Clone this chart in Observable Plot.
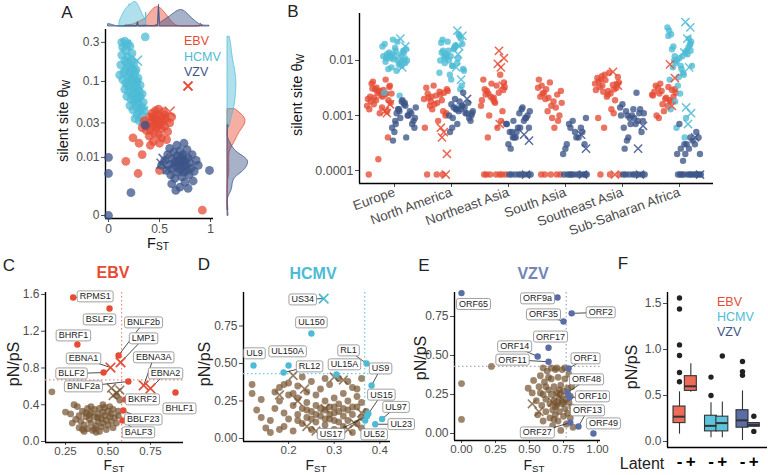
<!DOCTYPE html>
<html><head><meta charset="utf-8">
<script src="https://cdn.jsdelivr.net/npm/d3@7"></script>
<script src="https://cdn.jsdelivr.net/npm/@observablehq/plot@0.6"></script>
<style>
body{margin:0;background:#fff;}
#fig{position:relative;width:768px;height:475px;overflow:hidden;font-family:"Liberation Sans",Arial,sans-serif;background:#fff;}
.t{position:absolute;white-space:nowrap;transform:translate(-50%,-50%);line-height:1;}
.l{position:absolute;white-space:nowrap;transform:translate(0,-50%);line-height:1;}
.rot{transform:translate(-50%,-50%) rotate(-90deg);}
sub{font-size:70%;vertical-align:-0.25em;line-height:0;}
</style></head><body><div id="fig"></div><script>
// ---------------- DATA ----------------
const viruses = ["EBV", "HCMV", "VZV"];
const virusColors = ["#E64B35", "#4DBBD5", "#3C5488"];

// Panel A: [F_ST, silent-site theta_W]
const aEBV = [[0.35,0.032],[0.38,0.028],[0.40,0.036],[0.41,0.024],[0.42,0.031],[0.43,0.040],[0.44,0.027],[0.45,0.034],[0.45,0.022],[0.46,0.030],[0.47,0.038],[0.47,0.026],[0.48,0.033],[0.49,0.045],[0.49,0.021],[0.50,0.029],[0.51,0.036],[0.52,0.025],[0.53,0.031],[0.54,0.042],[0.55,0.027],[0.56,0.034],[0.58,0.023],[0.60,0.030],[0.62,0.036],[0.40,0.020],[0.44,0.017],[0.52,0.019],[0.57,0.018],[0.37,0.024],[0.43,0.035],[0.48,0.028],[0.51,0.032],[0.46,0.043],[0.55,0.038],[0.33,0.026],[0.24,0.019],[0.30,0.016],[0.41,0.015],[0.50,0.016],[0.17,0.0087],[0.33,0.011],[0.29,0.0055],[0.50,0.0062],[0.92,0.0004]];
const aEBVx = [[0.60,0.042],[0.56,0.035]];
const aHCMV = [[0.13,0.30],[0.16,0.31],[0.19,0.29],[0.14,0.26],[0.21,0.27],[0.17,0.24],[0.23,0.22],[0.13,0.21],[0.19,0.2],[0.16,0.18],[0.22,0.18],[0.25,0.17],[0.12,0.16],[0.2,0.15],[0.24,0.145],[0.17,0.14],[0.27,0.14],[0.15,0.13],[0.21,0.125],[0.25,0.12],[0.19,0.115],[0.29,0.11],[0.14,0.105],[0.23,0.1],[0.27,0.1],[0.17,0.095],[0.21,0.09],[0.31,0.09],[0.25,0.085],[0.16,0.08],[0.29,0.08],[0.2,0.075],[0.23,0.07],[0.33,0.07],[0.27,0.068],[0.18,0.065],[0.3,0.062],[0.22,0.06],[0.25,0.056],[0.29,0.053],[0.34,0.055],[0.21,0.05],[0.27,0.048],[0.31,0.046],[0.24,0.044],[0.3,0.042],[0.35,0.043],[0.28,0.038],[0.32,0.036],[0.26,0.034],[0.3,0.032],[0.34,0.03],[0.37,0.027],[0.36,0.35],[0.11,0.12],[0.19,0.09],[0.28,0.06],[0.22,0.11],[0.26,0.13],[0.18,0.17],[0.23,0.14],[0.28,0.1],[0.25,0.075],[0.31,0.065],[0.27,0.09],[0.24,0.105],[0.3,0.075],[0.26,0.06],[0.33,0.048]];
const aHCMVx = [[0.17,0.28],[0.28,0.18],[0.34,0.042]];
const aVZV = [[0.52,0.0075],[0.55,0.009],[0.57,0.0062],[0.58,0.011],[0.60,0.0078],[0.61,0.0052],[0.62,0.0095],[0.63,0.0068],[0.64,0.012],[0.65,0.0085],[0.65,0.0045],[0.66,0.0072],[0.67,0.0105],[0.68,0.0058],[0.68,0.0088],[0.69,0.0078],[0.70,0.0125],[0.70,0.0064],[0.71,0.0095],[0.72,0.0048],[0.72,0.0082],[0.73,0.0070],[0.73,0.0110],[0.74,0.0058],[0.75,0.0090],[0.75,0.0038],[0.76,0.0075],[0.77,0.0130],[0.77,0.0062],[0.78,0.0098],[0.79,0.0052],[0.80,0.0082],[0.81,0.0068],[0.82,0.0110],[0.84,0.0060],[0.86,0.0090],[0.88,0.0075],[0.60,0.0135],[0.67,0.015],[0.74,0.016],[0.62,0.0035],[0.70,0.003],[0.78,0.0028],[0.83,0.004],[0.66,0.0025],[0.99,0.0062],[0.0,0.010],[0.0,0.0055],[0.22,0.0022],[0.0,0],[0.36,0.028],[0.72,0.0102],[0.69,0.0092],[0.74,0.0085]];
const aVZVx = [[0.52,0.008],[0.58,0.0065],[0.54,0.0095]];
const aXTicks = [0, 0.5, 1], aXLabels = ["0", "0.5", "1"];
const aYTicks = [0, 0.01, 0.03, 0.1, 0.3], aYLabels = ["0", "0.01", "0.03", "0.1", "0.3"];

// Panel B: theta_W per region (0 = no diversity)
const regions = ["Europe", "North America", "Northeast Asia", "South Asia", "Southeast Asia", "Sub-Saharan Africa"];
const bEBV = [
  [.0021,.0035,.0028,.0018,.0025,.0032,.0015,.0022,.0041,.0019,.0027,.0013,.0024,.0030,.0017,.0023,.0038,.0012,.0026,.0020,.0029,.0016,.0033,.0011,.0022,.0045,.0019,.0025,.0014,.0031,.0004,.00016,0],
  [.0022,.0030,.0017,.0025,.0012,.0035,.0020,.0027,.0015,.0010,.0023,.0032,.0019,.0013,.0028,.0008,.0021,.0026,.0016,.0006,.0024,.0018,.0011,0,0,0],
  [.0025,.0040,.0018,.0030,.0055,.0022,.0015,.0035,.0028,.0012,.0020,.0045,.0026,.0010,.0033,.0017,.0024,.0008,.0038,.0019,.0006,.0004,.0029,.0021,0,0,0,0,0,0,0],
  [.0020,.0028,.0015,.0035,.0024,.0012,.0032,.0018,.0026,.0010,.0040,.0022,.0014,.0030,.0017,.0009,.0025,.0008,.0021,.0045,.0006,0,0,0,0,0],
  [.0035,.0050,.0028,.0042,.0030,.0055,.0038,.0025,.0045,.0032,.0022,.0048,.0036,.0027,.0040,.0060,.0033,.0019,.0044,.0029,.0013,.0052,.0037,.0024,.0009,.0011,.0006,0,0,0],
  [.0025,.0030,.0020,.0035,.0018,.0028,.0024,.0015,.0032,.0022,.0012,.0027,.0019,.0038,.0026,.0021,.0010,.0029,.0016,.0023,.0033,.0009]
];
const bEBVx = [[.0012,.0016,.0011],[.0004,.0002,.0005,.0006,0],[.015,.011,.0075,.0087,.0035,.0007],[],[.0062,.0035,0],[.0085,.0048,.0015]];
const bHCMV = [
  [.012,.009,.015,.011,.008,.013,.018,.010,.007,.014,.012,.020,.009,.011,.016,.0065,.013,.010,.024,.012,.0085,.014,.011,.017,.0095,.013,.0075,.010,.022,.012,.015,.0105,.0026,.0023],
  [.012,.020,.008,.015,.030,.010,.006,.018,.011,.025,.0045,.014,.009,.022,.007,.016,.012,.028,.0055,.010,.019,.013,.0035,.008,.024,.011,.015,.0065,.017,.009,.0030,.012,.021,.0014],
  [],[],[],
  [.012,.020,.008,.030,.015,.010,.040,.006,.018,.025,.011,.0045,.014,.009,.022,.007,.016,.013,.0035,.028,.0055,.010,.019,.0025,.0013,.0009,.0006,.008,.012,.0075,.017,.005,.035,.0004,.0018,.015]
];
const bHCMVx = [[.025,.018,.0075,.012],[.035,.028,.018,.0075,.0045,.013],[],[],[],[.05,.04,.025,.014,.0075,.0014,.0011,.0007]];
const bVZV = [
  [.0012,.0009,.0015,.0007,.0011,.0018,.0006,.0010,.0013,.0008,.0016,.0005,.0012,.0009,.0014,.0004,.0011,.0007,.0019,.00035,.0010,.0013,.0006,.0017,.0008],
  [.0013,.0011,.0015,.0009,.0017,.0012,.0010,.0014,.0020,.0008,.0013,.0016,.0011,.0007,.0012,.0026,.0014,.0009,.0018,.0005,.0011,.0013,.0010,.0015,.0006],
  [.0008,.0006,.0011,.0005,.0009,.0004,.0007,.0013,.0005,.0010,.0006,.0003,.0008,.0004,.0012,.0006,.00025,.0009,.0005,.0007,.0014,.0004,0,0,0,0,0,0,0,0],
  [.0006,.0009,.0004,.0003,.0005,.0008,.0002,.0004,.0007,.0003,.0005,.00025,.0006,0,0,0,0,0,0,0,0,0,0],
  [.0010,.0008,.0013,.0006,.0011,.0009,.0014,.0007,.0012,.0005,.0010,.0016,.0008,.0004,.0011,.0009,.00025,.0013,.0007,.0010,.0026,.00035,0,0,0,0,0,0,0,0],
  [.0003,.0002,.0004,.00025,.0005,.0003,.0002,.00035,.00015,.0004,.00025,.0007,.0003,.0002,0,0,0,0,0,0,0,0,0,0,0,0]
];
const bVZVx = [[],[.0020],[.00045,.00035,0],[.00045,.00025,0],[.00025,.00065,0],[.0004,0]];
const bYTicks = [0.0001, 0.001, 0.01], bYLabels = ["0.0001", "0.001", "0.01"];

// Panels C-E: other genes [F_ST, pN/pS], highlighted genes [name, F_ST, pN/pS, shape]
const cOther = [[0.17,0.54],[0.25,0.32],[0.28,0.30],[0.30,0.40],[0.32,0.38],[0.33,0.28],[0.34,0.22],[0.35,0.33],[0.36,0.18],[0.37,0.27],[0.38,0.36],[0.38,0.14],[0.39,0.24],[0.40,0.31],[0.40,0.2],[0.41,0.12],[0.42,0.27],[0.42,0.35],[0.43,0.17],[0.44,0.22],[0.44,0.3],[0.45,0.11],[0.45,0.36],[0.46,0.25],[0.46,0.16],[0.47,0.32],[0.47,0.2],[0.48,0.28],[0.48,0.37],[0.49,0.13],[0.49,0.23],[0.5,0.33],[0.5,0.18],[0.51,0.27],[0.51,0.38],[0.52,0.22],[0.52,0.3],[0.53,0.15],[0.53,0.35],[0.54,0.26],[0.55,0.2],[0.55,0.5],[0.57,0.45],[0.56,0.33],[0.36,0.11],[0.33,0.15],[0.43,0.1],[0.31,0.24],[0.29,0.2],[0.47,0.4],[0.56,0.28],[0.40,0.38],[0.35,0.13],[0.37,0.31],[0.42,0.14],[0.44,0.26],[0.39,0.29]];
const cOtherX = [[0.52,0.58],[0.55,0.53],[0.57,0.56],[0.53,0.5]];
const cGenes = [["RPMS1",0.295,1.567,"o"],["BSLF2",0.509,1.447,"o"],["BHRF1",0.32,1.055,"o"],["BNLF2b",0.562,0.936,"o"],["LMP1",0.574,0.86,"x"],["EBNA1",0.515,0.805,"x"],["BLLF2",0.474,0.75,"o"],["BNLF2a",0.62,0.653,"o"],["EBNA3A",0.71,0.61,"x"],["EBNA2",0.75,0.577,"x"],["BHLF1",0.897,0.533,"o"],["BKRF2",0.603,0.457,"o"],["BBLF23",0.59,0.337,"o"],["BALF3",0.585,0.229,"o"]];
const cCut = [0.58, 0.67];

const dOther = [[0.12,0.36],[0.12,0.30],[0.13,0.19],[0.14,0.26],[0.15,0.07],[0.16,0.12],[0.17,0.31],[0.17,0.2],[0.18,0.25],[0.18,0.34],[0.19,0.08],[0.19,0.17],[0.2,0.29],[0.2,0.13],[0.21,0.22],[0.21,0.05],[0.22,0.35],[0.22,0.16],[0.22,0.27],[0.23,0.1],[0.23,0.2],[0.24,0.31],[0.24,0.14],[0.24,0.24],[0.25,0.06],[0.25,0.18],[0.25,0.38],[0.26,0.11],[0.26,0.22],[0.26,0.29],[0.27,0.15],[0.27,0.03],[0.27,0.33],[0.28,0.19],[0.28,0.09],[0.28,0.25],[0.29,0.13],[0.29,0.21],[0.29,0.36],[0.3,0.06],[0.3,0.17],[0.3,0.27],[0.31,0.11],[0.31,0.23],[0.31,0.4],[0.32,0.15],[0.32,0.08],[0.32,0.3],[0.33,0.19],[0.33,0.12],[0.33,0.25],[0.34,0.04],[0.34,0.16],[0.34,0.34],[0.35,0.1],[0.35,0.21],[0.35,0.28],[0.36,0.14],[0.36,0.07],[0.36,0.24],[0.37,0.18],[0.37,0.03],[0.2,0.37],[0.23,0.41],[0.28,0.4],[0.33,0.38],[0.25,0.13],[0.27,0.2],[0.29,0.16],[0.31,0.18],[0.26,0.16],[0.28,0.13],[0.3,0.12],[0.32,0.2],[0.24,0.19],[0.22,0.12],[0.3,0.21],[0.34,0.21],[0.28,0.05],[0.31,0.05],[0.21,0.3],[0.19,0.36],[0.35,0.33],[0.36,0.4],[0.14,0.14],[0.16,0.04],[0.18,0.06]];
const dOtherX = [[0.21,0.42],[0.235,0.33],[0.30,0.41],[0.32,0.39],[0.22,0.25],[0.18,0.29],[0.26,0.05],[0.345,0.1],[0.33,0.06],[0.28,0.2],[0.24,0.08],[0.36,0.17]];
const dGenes = [["US34",0.277,0.933,"x"],["UL150",0.25,0.70,"o"],["UL9",0.123,0.487,"o"],["UL150A",0.20,0.487,"o"],["RL12",0.189,0.44,"o"],["UL15A",0.305,0.427,"o"],["RL1",0.371,0.50,"o"],["US9",0.382,0.353,"o"],["US15",0.375,0.165,"o"],["UL97",0.405,0.13,"o"],["UL23",0.39,0.095,"o"],["UL52",0.368,0.12,"o"],["US17",0.372,0.15,"o"]];
const dCut = [0.367, 0.433];

const eOther = [[0.0,0.32],[0.0,0.09],[0.22,0.43],[0.49,0.29],[0.52,0.26],[0.53,0.34],[0.55,0.21],[0.56,0.12],[0.57,0.3],[0.58,0.37],[0.59,0.18],[0.6,0.25],[0.6,0.08],[0.61,0.33],[0.62,0.14],[0.62,0.22],[0.63,0.4],[0.64,0.28],[0.65,0.1],[0.65,0.19],[0.66,0.35],[0.66,0.25],[0.67,0.05],[0.67,0.15],[0.68,0.3],[0.68,0.21],[0.69,0.41],[0.69,0.12],[0.7,0.26],[0.7,0.18],[0.71,0.36],[0.71,0.08],[0.72,0.23],[0.72,0.14],[0.73,0.31],[0.73,0.02],[0.74,0.19],[0.74,0.41],[0.75,0.27],[0.75,0.11],[0.76,0.16],[0.76,0.35],[0.77,0.22],[0.77,0.06],[0.78,0.29],[0.78,0.13],[0.79,0.2],[0.79,0.38],[0.8,0.24],[0.8,0.1],[0.81,0.17],[0.81,0.3],[0.82,0.04],[0.7,0.42],[0.66,0.42],[0.62,0.3],[0.58,0.26],[0.64,0.36],[0.72,0.28],[0.68,0.09],[0.75,0.2],[0.69,0.17],[0.73,0.25],[0.71,0.2],[0.6,0.42],[0.76,0.42]];
const eOtherX = [[0.52,0.19],[0.57,0.14],[0.7,0.25],[0.74,0.22],[0.67,0.2]];
const eGenes = [["ORF65",0.0,0.90,"o"],["ORF9a",0.706,0.872,"o"],["ORF35",0.75,0.718,"o"],["ORF2",0.81,0.77,"o"],["ORF17",0.64,0.55,"o"],["ORF14",0.56,0.494,"o"],["ORF11",0.64,0.46,"o"],["ORF1",0.787,0.417,"o"],["ORF48",0.78,0.263,"o"],["ORF10",0.794,0.231,"o"],["ORF13",0.86,0.045,"o"],["ORF49",0.97,0.0,"o"],["ORF27",0.80,0.07,"o"]];
const eCut = [0.77, 0.43];

// Panel F: pN/pS box summaries [virus, latent, whiskerLow, q1, median, q3, whiskerHigh]
const latent = ["-", "+"];
const fStats = [["EBV","-",0.08,0.20,0.27,0.38,0.54],["EBV","+",0.535,0.55,0.60,0.71,0.845],["HCMV","-",0.04,0.11,0.17,0.28,0.42],["HCMV","+",0.04,0.11,0.20,0.27,0.43],["VZV","-",0.01,0.15,0.23,0.34,0.55],["VZV","+",0.16,0.16,0.18,0.20,0.20]];
const fOutliers = [[1.56,1.44,1.05,0.935,0.75,0.65],[],[0.70,0.50],[0.93],[0.87,0.76,0.72],[0.275,0.11]];

// ---------------- LAYOUT / STYLE ----------------
const W = 768, H = 475;
const fig = document.getElementById("fig");
const FONT = '"Liberation Sans", Arial, sans-serif';
const BROWN = "#74522f";
const TICK = 12;

function mk(box, opts) {
  const svg = Plot.plot({
    width: W, height: H,
    marginLeft: box[0], marginRight: W - box[1], marginTop: box[2], marginBottom: H - box[3],
    style: {background: "transparent", fontFamily: FONT, fontSize: TICK + "px", color: "#4d4d4d", overflow: "visible"},
    ...opts
  });
  svg.style.position = "absolute"; svg.style.left = "0px"; svg.style.top = "0px";
  fig.appendChild(svg);
  return svg;
}
function axes(xd, yd, xt, xl, yt, yl, xo = {}, yo = {}) {
  const xm = new Map(xt.map((t, i) => [t, xl[i]])), ym = new Map(yt.map((t, i) => [t, yl[i]]));
  return [
    Plot.axisX({ticks: xt, tickFormat: d => xm.get(d), tickSize: 4, tickPadding: 2, fontSize: TICK, fill: "#4d4d4d", label: null, ...xo}),
    Plot.axisY({ticks: yt, tickFormat: d => ym.get(d), tickSize: 4, tickPadding: 2, fontSize: TICK, fill: "#4d4d4d", label: null, ...yo}),
    Plot.ruleX([xd[0]], {stroke: "#000", strokeWidth: 1.4}),
    Plot.ruleY([yd[0]], {stroke: "#000", strokeWidth: 1.4})
  ];
}
function txt(html, x, y, css = "", cls = "t") {
  const d = document.createElement("div");
  d.className = cls; d.innerHTML = html;
  d.style.cssText = `left:${x}px;top:${y}px;` + css;
  fig.appendChild(d);
}
function kde(values, lo, hi, n = 120) {
  const sd = d3.deviation(values), iqr = d3.quantile(values, 0.75) - d3.quantile(values, 0.25);
  const bw = 0.9 * Math.min(sd, iqr / 1.34 || sd) * Math.pow(values.length, -0.2);
  const out = [];
  for (let k = 0; k <= n; k++) {
    const g = lo + (hi - lo) * k / n;
    out.push([g, d3.mean(values, v => Math.exp(-0.5 * ((g - v) / bw) ** 2)) / (bw * Math.sqrt(2 * Math.PI))]);
  }
  return out;
}

// ---------------- PANEL A ----------------
const aBox = [105, 213, 29, 218];
const aX = [-0.0294, 1.0294], aC = 0.0025, aY = [-0.000217, 0.4295];
const aRows = [];
[["HCMV", aHCMV, aHCMVx], ["EBV", aEBV, aEBVx], ["VZV", aVZV, aVZVx]].forEach(([v, o, x]) => {
  o.forEach(([f, t]) => aRows.push({f, t, virus: v, shape: "o"}));
  x.forEach(([f, t]) => aRows.push({f, t, virus: v, shape: "x"}));
});
const colorScale = {domain: viruses, range: virusColors};
mk(aBox, {
  x: {domain: aX}, y: {type: "symlog", constant: aC, domain: aY}, color: colorScale,
  marks: [
    ...axes(aX, aY, aXTicks, aXLabels, aYTicks, aYLabels),
    Plot.dot(aRows.filter(d => d.shape === "o"), {x: "f", y: "t", fill: "virus", r: 4.4, fillOpacity: 0.75}),
    Plot.dot(aRows.filter(d => d.shape === "x"), {x: "f", y: "t", stroke: "virus", symbol: "times", r: 4.6, strokeWidth: 1.6, strokeOpacity: 0.8})
  ]
});
// marginal densities
const topRows = [], rightRows = [];
const symT = v => Math.log1p(v / aC), symInv = t => aC * Math.expm1(t);
viruses.forEach(v => {
  const pts = aRows.filter(d => d.virus === v);
  const fs = pts.map(d => d.f), ts = pts.map(d => symT(d.t));
  kde(fs, d3.min(fs), d3.max(fs)).forEach(([x, d]) => topRows.push({x, d, virus: v}));
  kde(ts, d3.min(ts), d3.max(ts)).forEach(([t, d]) => rightRows.push({v: symInv(t), d, virus: v}));
});
mk([105, 213, 1, 26], {
  x: {domain: aX, axis: null}, y: {domain: [0, d3.max(topRows, d => d.d) * 1.02], axis: null}, color: colorScale,
  marks: [Plot.areaY(topRows, {x: "x", y: "d", fill: "virus", stroke: "virus", fillOpacity: 0.45, strokeWidth: 0.8})]
});
mk([227, 248, 29, 218], {
  y: {type: "symlog", constant: aC, domain: aY, axis: null}, x: {domain: [0, d3.max(rightRows, d => d.d) * 1.02], axis: null}, color: colorScale,
  marks: [Plot.areaX(rightRows, {y: "v", x: "d", fill: "virus", stroke: "virus", fillOpacity: 0.45, strokeWidth: 0.8})]
});

// ---------------- PANEL B ----------------
const bBox = [359, 713, 13, 183];
const bX = [-0.614, 5.596], bY = [5.81e-5, 0.0715], bZero = 8.46e-5;
const off = {EBV: -0.27, HCMV: 0, VZV: 0.17};
const jit = i => ((i * 0.6180339887 + 0.31) % 1) - 0.5;
const bRows = [];
[["EBV", bEBV, bEBVx], ["HCMV", bHCMV, bHCMVx], ["VZV", bVZV, bVZVx]].forEach(([v, circ, cross]) => {
  regions.forEach((r, ri) => {
    circ[ri].forEach((val, i) => bRows.push({x: ri + off[v] + 0.44 * jit(i), y: val > 0 ? val : bZero, virus: v, shape: "o"}));
    cross[ri].forEach((val, i) => bRows.push({x: ri + off[v] + 0.15 + 0.14 * jit(i + 3), y: val > 0 ? val : bZero, virus: v, shape: "x"}));
  });
});
mk(bBox, {
  x: {domain: bX}, y: {type: "log", domain: bY}, color: colorScale,
  marks: [
    ...axes(bX, bY, d3.range(regions.length), regions, bYTicks, bYLabels, {tickRotate: -20, fontSize: 13.5, tickPadding: 4}, {fontSize: 12.5}),
    Plot.dot(bRows.filter(d => d.shape === "o"), {x: "x", y: "y", fill: "virus", r: 3.2, fillOpacity: 0.78}),
    Plot.dot(bRows.filter(d => d.shape === "x"), {x: "x", y: "y", stroke: "virus", symbol: "times", r: 3.8, strokeWidth: 1.5, strokeOpacity: 0.85})
  ]
});

// ---------------- PANELS C, D, E ----------------
function boxLabels(svg) {
  svg.querySelectorAll('g[aria-label="text"] text').forEach(t => {
    const b = t.getBBox();
    const r = document.createElementNS("http://www.w3.org/2000/svg", "rect");
    r.setAttribute("x", b.x - 2.5); r.setAttribute("y", b.y - 0.5);
    r.setAttribute("width", b.width + 5); r.setAttribute("height", b.height + 1);
    r.setAttribute("rx", 2); r.setAttribute("fill", "#fff");
    r.setAttribute("stroke", "#8a8a8a"); r.setAttribute("stroke-width", 0.8);
    const tr = t.getAttribute("transform"); if (tr) r.setAttribute("transform", tr);
    t.parentNode.insertBefore(r, t);
  });
}
function genePanel(g) {
  const kx = (g.box[1] - g.box[0]) / (g.xd[1] - g.xd[0]), ky = (g.box[3] - g.box[2]) / (g.yd[1] - g.yd[0]);
  const lab = g.genes.map(([name, f, p, s], i) => {
    const [dx, dy] = g.nudge[i];
    return {name, f, p, s, lx: f + dx / kx, ly: p - dy / ky, far: Math.hypot(dx, dy) > 17};
  });
  const other = g.other.map(([f, p]) => ({f, p})), otherX = g.otherX.map(([f, p]) => ({f, p}));
  const dotted = {stroke: g.lineColor, strokeDasharray: "1.5,2.5", strokeWidth: 1.2};
  const svg = mk(g.box, {
    x: {domain: g.xd}, y: {domain: g.yd},
    marks: [
      ...axes(g.xd, g.yd, g.xt, g.xl, g.yt, g.yl, {fontSize: 11.5, tickSize: 3, tickPadding: 1}),
      Plot.ruleX([g.cut[0]], dotted),
      Plot.ruleY([g.cut[1]], dotted),
      Plot.dot(other, {x: "f", y: "p", r: 3.4, fill: BROWN, fillOpacity: 0.7}),
      Plot.dot(otherX, {x: "f", y: "p", r: 4, symbol: "times", stroke: BROWN, strokeOpacity: 0.75, strokeWidth: 1.6}),
      Plot.link(lab.filter(d => d.far), {x1: "f", y1: "p", x2: "lx", y2: "ly", stroke: "#222", strokeWidth: 0.8}),
      Plot.dot(lab.filter(d => d.s === "o"), {x: "f", y: "p", r: 3.2, fill: g.color}),
      Plot.dot(lab.filter(d => d.s === "x"), {x: "f", y: "p", r: 4.4, symbol: "times", stroke: g.color, strokeWidth: 1.7}),
      Plot.text(lab, {x: "lx", y: "ly", text: "name", fontSize: 9, fill: "#222"})
    ]
  });
  boxLabels(svg);
}
genePanel({
  box: [45, 183, 292, 442], xd: [0.1324, 0.9441], yd: [-0.0109, 1.6213],
  xt: [0.25, 0.5, 0.75], xl: ["0.25", "0.50", "0.75"], yt: [0, 0.4, 0.8, 1.2, 1.6], yl: ["0.0", "0.4", "0.8", "1.2", "1.6"],
  other: cOther, otherX: cOtherX, genes: cGenes, cut: cCut, color: "#E64B35", lineColor: "#F08A7E",
  nudge: [[22,-1],[-10,11],[-4,-9],[25,-33],[23,-24],[-27,-9],[-32,1],[-45,5],[10,-28],[15,-15],[4,16],[17,0],[20,9],[16,12]]
});
genePanel({
  box: [243, 390, 292, 441], xd: [0.1011, 0.4235], yd: [-0.02, 0.9733],
  xt: [0.2, 0.3, 0.4], xl: ["0.2", "0.3", "0.4"], yt: [0, 0.25, 0.5, 0.75], yl: ["0.00", "0.25", "0.50", "0.75"],
  other: dOther, otherX: dOtherX, genes: dGenes, cut: dCut, color: "#4DBBD5", lineColor: "#6CCBE0",
  nudge: [[-21,1],[0,-11],[1,-12],[-1,-14],[26,-6],[8,-10],[-18,-13],[9,-17],[13,-19],[14,-12],[26,0],[9,14],[-36,18]]
});
genePanel({
  box: [454, 600, 292, 440], xd: [-0.0515, 1.022], yd: [-0.0449, 0.9038],
  xt: [0, 0.25, 0.5, 0.75, 1], xl: ["0.00", "0.25", "0.50", "0.75", "1.00"], yt: [0, 0.25, 0.5, 0.75], yl: ["0.00", "0.25", "0.50", "0.75"],
  other: eOther, otherX: eOtherX, genes: eGenes, cut: eCut, color: "#5A6DA6", lineColor: "#A3AAC2",
  nudge: [[12,11],[-20,1],[-20,-7],[29,-1],[2,-11],[-23,-10],[-36,-2],[17,-10],[19,-13],[23,-1],[9,-16],[10,-10],[-33,10]]
});

// ---------------- PANEL F ----------------
const fBox = [667, 767, 292, 447];
const fX = [-0.381, 2.794], fY = [-0.0652, 1.6196];
const fRows = fStats.map(([v, l, lo, q1, med, q3, hi], i) => ({v, l, lo, q1, med, q3, hi, pos: viruses.indexOf(v) + latent.indexOf(l) * 0.36, i}));
const fOut = fRows.flatMap(r => fOutliers[r.i].map(y => ({pos: r.pos, y})));
const bw = 0.19;
const fTickMap = new Map(fRows.map(r => [r.pos, r.l]));
const fYMap = new Map([[0, "0.0"], [0.5, "0.5"], [1, "1.0"], [1.5, "1.5"]]);
mk(fBox, {
  x: {domain: fX}, y: {domain: fY}, color: {domain: viruses, range: ["#EE6B5A", "#5CC5DC", "#5A6DA4"]},
  marks: [
    Plot.axisY({ticks: [0, 0.5, 1, 1.5], tickFormat: d => fYMap.get(d), tickSize: 4, tickPadding: 2, fontSize: TICK, fill: "#4d4d4d", label: null}),
    Plot.axisX({ticks: fRows.map(r => r.pos), tickFormat: d => fTickMap.get(d), tickSize: 0, tickPadding: 7, fontSize: 17, fontWeight: "bold", fill: "#000", label: null}),
    Plot.ruleX([fX[0]], {stroke: "#000", strokeWidth: 1.4}),
    Plot.ruleY([fY[0]], {stroke: "#000", strokeWidth: 1.4}),
    Plot.ruleX(fRows, {x: "pos", y1: "lo", y2: "hi", stroke: "#333", strokeWidth: 1.1}),
    Plot.rect(fRows, {x1: d => d.pos - bw, x2: d => d.pos + bw, y1: "q1", y2: "q3", fill: "v", stroke: "#333", strokeWidth: 1.1}),
    Plot.ruleY(fRows, {y: "med", x1: d => d.pos - bw, x2: d => d.pos + bw, stroke: "#333", strokeWidth: 2}),
    Plot.dot(fOut, {x: "pos", y: "y", r: 2.7, fill: "#222"})
  ]
});

// ---------------- TEXT ----------------
const big = "font-size:16px;color:#222;";
const fst = "font-size:14px;color:#222;";
[["A", 67, 12], ["B", 293, 11], ["C", 9, 265], ["D", 204, 264], ["E", 424, 265], ["F", 623, 263]].forEach(([s, x, y]) => txt(s, x, y, "font-size:17px;color:#222;"));
txt("silent site θ<sub>W</sub>", 63, 121, "font-size:14.5px;color:#111;", "t rot");
txt("F<sub>ST</sub>", 158, 243, "font-size:14.5px;color:#111;");
txt("silent site θ<sub>W</sub>", 297, 95, "font-size:14.5px;color:#111;", "t rot");
txt("pN/pS", 14, 364, big, "t rot");
txt("pN/pS", 205, 364, big, "t rot");
txt("pN/pS", 421, 358, big, "t rot");
txt("pN/pS", 632, 367, big, "t rot");
txt("F<sub>ST</sub>", 114, 465, fst);
txt("F<sub>ST</sub>", 316, 465, fst);
txt("F<sub>ST</sub>", 534, 465, fst);
txt("Latent", 642, 464, big);
txt("EBV", 113, 273, "font-size:16px;font-weight:bold;color:#E64B35;");
txt("HCMV", 313, 274, "font-size:16px;font-weight:bold;color:#4DBBD5;");
txt("VZV", 533, 274, "font-size:16px;font-weight:bold;color:#7384B8;");
viruses.forEach((v, i) => {
  txt(v, 184, 41 + 15.5 * i, `font-size:12.5px;color:${virusColors[i]};`, "l");
  txt(v, 717, 302 + 15 * i, `font-size:12.5px;color:${virusColors[i]};`, "l");
});
txt('<svg width="12" height="12"><path d="M1.5,1.5L10.5,10.5M10.5,1.5L1.5,10.5" stroke="#E64B35" stroke-width="1.8" fill="none"/></svg>', 188, 87, "");
</script></body></html>
